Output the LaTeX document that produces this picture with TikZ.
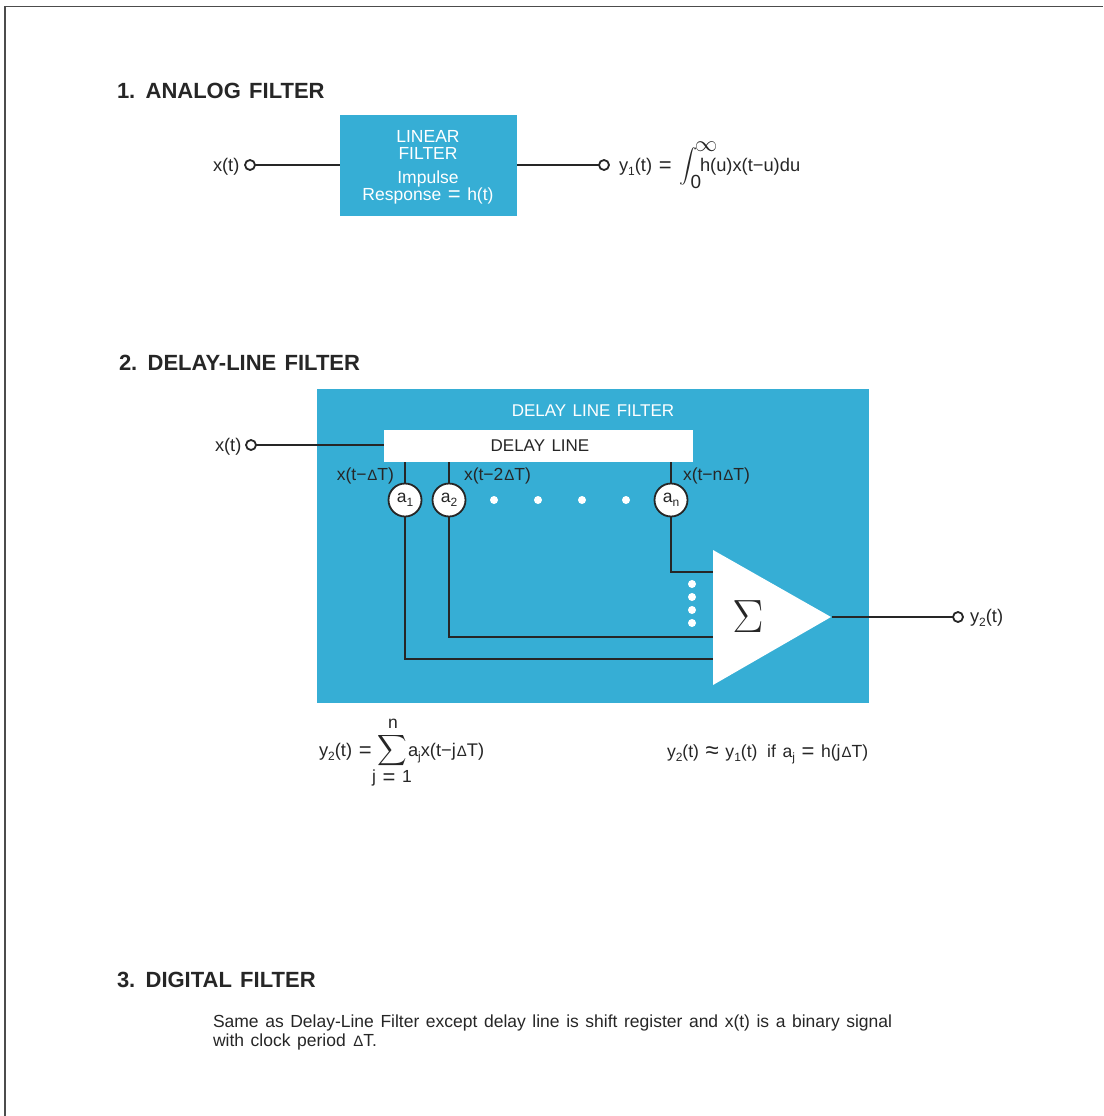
\documentclass[tikz,border=0pt]{standalone}
\usepackage{fontspec}
\setmainfont[WordSpace=1.35]{Liberation Sans}
\newcommand{\dT}{\kern1pt{\fontsize{15}{15}\selectfont Δ}T}
\newcommand{\low}[1]{\raisebox{-4pt}{\fontsize{12}{12}\selectfont #1}}
\newcommand{\eq}{\smash{\raisebox{-1.5pt}{\fontsize{22}{19}\selectfont =}}}
\newcommand{\apx}{\smash{\raisebox{-1.5pt}{\fontsize{24}{19}\selectfont ≈}}}
\begin{document}
\begin{tikzpicture}
	[x=1pt,y=-1pt,>=latex,
	every node/.style={inner sep=0pt,outer sep=0pt,text=black!85,font=\fontsize{17.5}{17}\selectfont},
	title/.style={anchor=base west,font=\fontsize{22}{24}\selectfont\bfseries},
	label/.style={anchor=base west},
	formula/.style={anchor=base west,font=\fontsize{18.3}{19}\selectfont},
	wire/.style={line width=1.8pt,black!85},
	terminal/.style={circle,draw=black!85,line width=1.8pt,fill=white,minimum size=10pt},
	filterbox/.style={fill=filterblue,anchor=north west},
	coef/.style={circle,draw=black!85,line width=1.8pt,fill=white,minimum size=33pt},
	spot/.style={circle,fill=white,minimum size=8pt},
	lettering/.style={text=white,align=center}]
\definecolor{filterblue}{RGB}{54,174,213}
\useasboundingbox (0,0) rectangle (1103,1116);
\draw[line width=1.5pt,black!70] (5,1116)--(5,6.5)--(1103,6.5);

\node[title] (title1) at (117,98) {1. ANALOG FILTER};
\node[filterbox,minimum width=177pt,minimum height=101pt] (box) at (340,115) {};
\node[lettering] (linear) at (428,145) {LINEAR\\FILTER};
\node[lettering] (impulse) at (428,187) {Impulse\\Response \eq{} h(t)};
\node[terminal] (in1) at (250,165) {};
\node[terminal] (out1) at (604,165) {};
\node[formula] (x1) at (213,171) {x(t)};
\node[formula] (y1) at (619,171) {y\low{1}(t) \eq};
\node[xscale=1.8,yscale=1.7] (int) at (688.5,166) {$\displaystyle\int$};
\node[scale=1.3] (inf) at (706,147) {$\infty$};
\node[font=\fontsize{19}{19}\selectfont] (zero) at (696,182) {0};
\node[formula] (integrand) at (700,171) {h(u)x(t−u)du};
\draw[wire] (in1)--(box.west|-in1);
\draw[wire] (box.east|-out1)--(out1);

\node[title] (title2) at (119,370) {2. DELAY-LINE FILTER};
\node[filterbox,minimum width=552pt,minimum height=314pt] (dlf) at (317,389) {};
\node[lettering,font=\fontsize{17}{17}\selectfont] (dlftext) at (593,411) {DELAY LINE FILTER};
\node[fill=white,anchor=north west,minimum width=309pt,minimum height=32pt] (line) at (384,430) {};
\node[font=\fontsize{17}{17}\selectfont] (linetext) at (540,446) {DELAY LINE};
\node[terminal] (in2) at (251,445) {};
\node[formula] (x2) at (215,451) {x(t)};
\node[coef] (a1) at (405,500) {};
\node[coef] (a2) at (449,500) {};
\node[coef] (an) at (671,500) {};
\node (a1text) at (405,500) {a\low{1}};
\node (a2text) at (449,500) {a\low{2}};
\node (antext) at (671,500) {a\low{n}};
\node[anchor=base east] (xa) at (394,480) {x(t−\dT)};
\node[label] (xb) at (464,480) {x(t−2\dT)};
\node[label] (xc) at (683,480) {x(t−n\dT)};
\foreach \i/\x in {1/494,2/538,3/582,4/626}
	\node[spot] (h\i) at (\x,500) {};
\foreach \i/\y in {1/584,2/597,3/610,4/623}
	\node[spot] (v\i) at (692,\y) {};
\fill[white] (713,550)--(713,685)--(831,617)--cycle;
\node[scale=2.7] (sigma) at (748,617) {$\Sigma$};
\coordinate (sumout) at (832,617);
\coordinate (ka) at (713,659);
\coordinate (kb) at (713,637);
\coordinate (kc) at (713,572);
\node[terminal] (out2) at (958,617) {};
\node[formula] (y2) at (970,622) {y\low{2}(t)};
\draw[wire] (in2)--(line.west|-in2);
\draw[wire] (line.south-|a1)--(a1);
\draw[wire] (line.south-|a2)--(a2);
\draw[wire] (line.south-|an)--(an);
\draw[wire] (a1)--(a1|-ka)--(ka);
\draw[wire] (a2)--(a2|-kb)--(kb);
\draw[wire] (an)--(an|-kc)--(kc);
\draw[wire] (sumout)--(out2);

\node[formula] (f1) at (319,756) {y\low{2}(t) \eq};
\node[xscale=2.05,yscale=2.15] (sum) at (392.5,750.5) {$\displaystyle\sum$};
\node (n) at (393,724) {n};
\node (j) at (392,778) {j \eq{} 1};
\node[formula] (f2) at (408,756) {a\low{j}x(t−j\dT)};
\node[formula,font=\fontsize{17.6}{19}\selectfont] (f3) at (667,757) {y\low{2}(t) \apx{} y\low{1}(t) \hspace{3pt}if a\low{j} \eq{} h(j\dT)};

\node[title] (title3) at (117,987) {3. DIGITAL FILTER};
\node[align=left,anchor=north west,font=\fontsize{17.5}{19}\selectfont] (note) at (213,1015) {Same as Delay-Line Filter except delay line is shift register and x(t) is a binary signal\\with clock period \dT.};
\end{tikzpicture}
\end{document}
